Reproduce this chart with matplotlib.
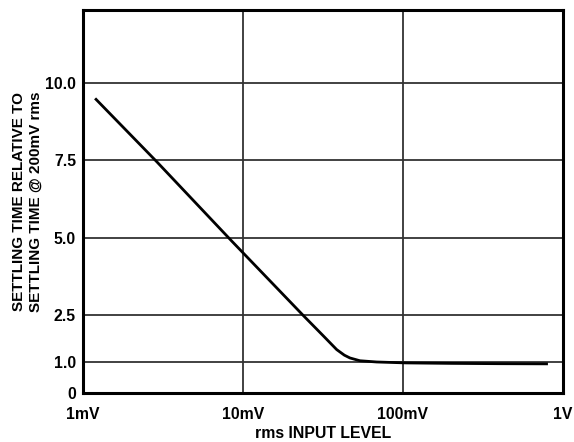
import matplotlib
matplotlib.use("Agg")
import matplotlib.pyplot as plt
from matplotlib.ticker import FixedLocator, NullLocator

plt.rcParams['font.family'] = ['Liberation Sans', 'DejaVu Sans']

# data (input level in mV, relative settling time)
input_mv = [1.19, 2.9, 8.5, 23.8, 31.8, 38.5, 43.0, 46.6, 53.8, 68.5, 105, 200, 400, 805]
settling = [9.5, 7.45, 4.9, 2.5, 1.84, 1.40, 1.22, 1.13, 1.04, 1.0, 0.97, 0.955, 0.945, 0.94]

x_ticks = [1, 10, 100, 1000]
x_tick_labels = ['1mV', '10mV', '100mV', '1V']
y_ticks = [0, 1.0, 2.5, 5.0, 7.5, 10.0]
y_tick_labels = ['0', '1.0', '2.5', '5.0', '7.5', '10.0']

fig = plt.figure(figsize=(5.74, 4.42), dpi=100)
ax = fig.add_axes([83/574, 1 - 393/442, (563-83)/574, (393-10)/442])

ax.set_xscale('log')
ax.set_xlim(1, 1000)
ax.set_ylim(0, 12.35)

ax.xaxis.set_major_locator(FixedLocator(x_ticks))
ax.xaxis.set_minor_locator(NullLocator())
ax.set_xticklabels(x_tick_labels)
ax.set_yticks(y_ticks)
ax.set_yticklabels(y_tick_labels)

for v in [10, 100]:
    ax.axvline(v, color='#333333', lw=1.3, zorder=1)
for v in [1.0, 2.5, 5.0, 7.5, 10.0]:
    ax.axhline(v, color='#333333', lw=1.3, zorder=1)

ax.plot(input_mv, settling, color='black', lw=2.0, zorder=3, solid_capstyle='butt')

for s in ax.spines.values():
    s.set_linewidth(2.2)
    s.set_color('black')

ax.tick_params(axis='both', length=0, labelsize=11.3)
ax.tick_params(axis='y', pad=5)
ax.tick_params(axis='x', pad=10)
for lab in ax.get_xticklabels() + ax.get_yticklabels():
    lab.set_fontweight('bold')

ax.set_xlabel('rms INPUT LEVEL', fontsize=11.4, fontweight='bold', labelpad=3)
ax.set_ylabel('SETTLING TIME RELATIVE TO\nSETTLING TIME @ 200mV rms', fontsize=11,
              fontweight='bold', labelpad=2, linespacing=1.2)

fig.savefig('out.png', dpi=100)
